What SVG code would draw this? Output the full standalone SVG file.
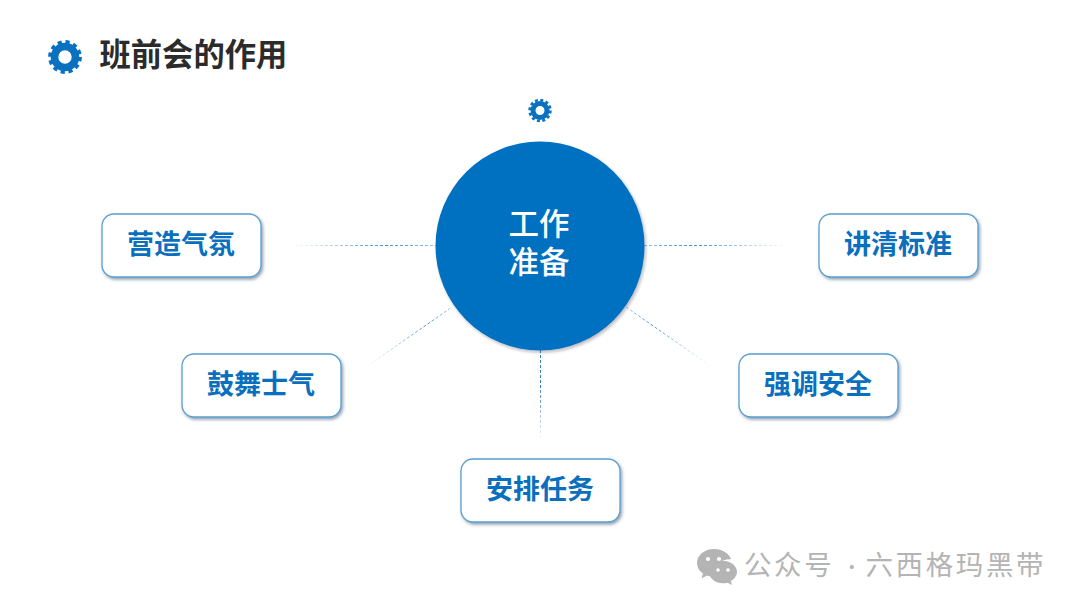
<svg xmlns="http://www.w3.org/2000/svg" width="1080" height="608" viewBox="0 0 1080 608">
<style>
.box{fill:#fff;stroke:#5a9fd0;stroke-width:1.3;filter:url(#sh)}
.lbl{font:700 27px "Noto Sans CJK SC","Noto Sans",sans-serif;fill:#0a70bd;text-anchor:middle}
.ctr{font:500 30.5px "Noto Sans CJK SC","Noto Sans",sans-serif;fill:#fff;text-anchor:middle}
.ln{fill:none;stroke-width:1;stroke-dasharray:3 2}
.wm{font:400 27.500px "Noto Sans CJK SC","Noto Sans",sans-serif;fill:#b4b4b4;letter-spacing:2.600px}
</style>
<defs>
<filter id="sh" x="-10%" y="-15%" width="125%" height="135%"><feDropShadow dx="1.5" dy="2" stdDeviation="1.5" flood-color="#3c5a78" flood-opacity=".55"/></filter>
<filter id="sc" x="-5%" y="-5%" width="110%" height="110%"><feDropShadow dx="1.5" dy="2" stdDeviation="1.8" flood-color="#223" flood-opacity=".3"/></filter>
<linearGradient id="gL" gradientUnits="userSpaceOnUse" x1="290" y1="0" x2="436" y2="0"><stop offset="0" stop-color="#6aa8dc" stop-opacity="0"/><stop offset=".65" stop-color="#3f8fd0"/><stop offset="1" stop-color="#6aa8dc" stop-opacity=".7"/></linearGradient>
<linearGradient id="gR" gradientUnits="userSpaceOnUse" x1="790" y1="0" x2="644" y2="0"><stop offset="0" stop-color="#6aa8dc" stop-opacity="0"/><stop offset=".65" stop-color="#3f8fd0"/><stop offset="1" stop-color="#6aa8dc" stop-opacity=".7"/></linearGradient>
<linearGradient id="gDL" gradientUnits="userSpaceOnUse" x1="366" y1="367" x2="452" y2="307"><stop offset="0" stop-color="#6aa8dc" stop-opacity="0"/><stop offset=".7" stop-color="#3f8fd0" stop-opacity=".95"/><stop offset="1" stop-color="#6aa8dc" stop-opacity=".6"/></linearGradient>
<linearGradient id="gDR" gradientUnits="userSpaceOnUse" x1="712" y1="367" x2="626" y2="307"><stop offset="0" stop-color="#6aa8dc" stop-opacity="0"/><stop offset=".7" stop-color="#3f8fd0" stop-opacity=".95"/><stop offset="1" stop-color="#6aa8dc" stop-opacity=".6"/></linearGradient>
<linearGradient id="gD" gradientUnits="userSpaceOnUse" x1="0" y1="441" x2="0" y2="350"><stop offset="0" stop-color="#3a80b8" stop-opacity="0"/><stop offset=".6" stop-color="#3a80b8"/><stop offset="1" stop-color="#3a80b8"/></linearGradient>
</defs>
<rect width="1080" height="608" fill="#fff"/>
<g id="title">
<g id="title-gear"><circle cx="65" cy="57" r="10.500" fill="none" stroke="#0a70c0" stroke-width="7.600"/><circle cx="65" cy="57" r="15" fill="none" stroke="#0a70c0" stroke-width="3.800" stroke-dasharray="4.2 3.654"/></g>
<text x="99.500" y="66" font-family="'Noto Sans CJK SC','Noto Sans',sans-serif" font-size="31.300" font-weight="700" fill="#2b2b2b">班前会的作用</text>
</g>
<g id="connectors">
<line class="ln" x1="290" y1="245.500" x2="436" y2="245.500" stroke="url(#gL)"/>
<line class="ln" x1="644" y1="245.500" x2="790" y2="245.500" stroke="url(#gR)"/>
<line class="ln" x1="366" y1="367" x2="452" y2="307" stroke="url(#gDL)"/>
<line class="ln" x1="626" y1="307" x2="712" y2="367" stroke="url(#gDR)"/>
<line class="ln" x1="540.500" y1="350" x2="540.500" y2="441" stroke="url(#gD)"/>
</g>
<g id="top-gear"><circle cx="540" cy="110.500" r="7" fill="none" stroke="#0a70c0" stroke-width="5"/><circle cx="540" cy="110.500" r="10.400" fill="none" stroke="#0a70c0" stroke-width="2.600" stroke-dasharray="3 2.445"/></g>
<g id="center"><circle cx="540" cy="246" r="104.500" fill="#0070c0" filter="url(#sc)"/>
<text class="ctr"><tspan x="539" y="235">工作</tspan><tspan x="539" y="273">准备</tspan></text></g>
<g id="n1"><rect class="box" x="102" y="214" width="159" height="63" rx="12"/><text class="lbl" x="181" y="254">营造气氛</text></g>
<g id="n2"><rect class="box" x="182" y="354" width="159" height="63" rx="12"/><text class="lbl" x="261" y="394">鼓舞士气</text></g>
<g id="n3"><rect class="box" x="461" y="459" width="159" height="63" rx="12"/><text class="lbl" x="540" y="499">安排任务</text></g>
<g id="n4"><rect class="box" x="739" y="354" width="159" height="63" rx="12"/><text class="lbl" x="818" y="394">强调安全</text></g>
<g id="n5"><rect class="box" x="819" y="214" width="159" height="63" rx="12"/><text class="lbl" x="898" y="254">讲清标准</text></g>
<g id="watermark">
<path d="M714 549c-9.500 0-17 6.300-17 14 0 4.300 2.300 8 6 10.600l-1.500 4.900 5.600-3c2 .6 4.200 1 6.900 1 .6 0 0-.1 .5-.2-.4-1.300-.6-2.600-.6-4 0-7.300 7-13 16-13h1.200c-1.800-6-9-10.300-16.600-10.300z" fill="#b4b4b4"/>
<path d="M737 572c0-6.300-6.400-11.300-14-11.300s-14 5-14 11.300 6.400 11.300 14 11.300c1.600 0 3.100-.2 4.600-.6l4.400 2.300-1.200-3.900c3.600-2.100 6.200-5.600 6.200-9.100z" fill="#b4b4b4"/>
<g fill="#fff"><circle cx="708" cy="559" r="2.100"/><circle cx="719" cy="559" r="2.100"/><circle cx="718" cy="570" r="1.800"/><circle cx="728" cy="570" r="1.800"/></g>
<text class="wm" y="574.500"><tspan x="744">公众号</tspan><tspan x="838" font-size="19" letter-spacing="0"> · </tspan><tspan x="865.500">六西格玛黑带</tspan></text>
</g>
</svg>
